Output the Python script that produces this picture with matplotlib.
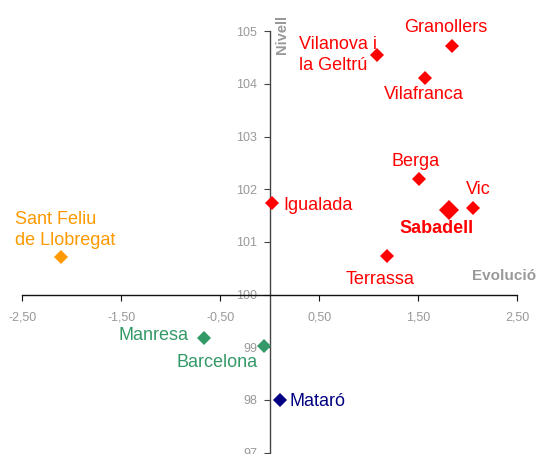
import matplotlib
matplotlib.use('Agg')
import matplotlib.pyplot as plt
from matplotlib.ticker import FuncFormatter

plt.rcParams['font.family'] = ['Liberation Sans', 'DejaVu Sans']

# data
cities = ['Granollers', 'Vilanova i\nla Geltrú', 'Vilafranca', 'Berga', 'Vic',
          'Sabadell', 'Terrassa', 'Igualada', 'Sant Feliu\nde Llobregat',
          'Manresa', 'Barcelona', 'Mataró']
evolucio = [1.84, 1.08, 1.57, 1.51, 2.05, 1.81, 1.18, 0.02, -2.11, -0.67, -0.06, 0.10]
nivell = [104.71, 104.54, 104.11, 102.20, 101.65, 101.60, 100.73, 101.73, 100.71,
          99.17, 99.03, 98.00]
colors = ['#ff0000'] * 8 + ['#ff9900', '#339966', '#339966', '#000080']

xticks = [-2.5, -1.5, -0.5, 0.5, 1.5, 2.5]
yticks = [97, 98, 99, 100, 101, 102, 103, 104, 105]

# label offsets in pixels (dx, dy) and alignment
label_pos = {
    'Granollers': (-6, 19, 'center'),
    'Vilanova i\nla Geltrú': (-78, 0, 'left'),
    'Vilafranca': (-1, -16, 'center'),
    'Berga': (-4, 17, 'center'),
    'Vic': (6, 18, 'center'),
    'Sabadell': (-12, -18, 'center'),
    'Terrassa': (-7, -23, 'center'),
    'Igualada': (12, -2, 'left'),
    'Sant Feliu\nde Llobregat': (-46, 27, 'left'),
    'Manresa': (-15, 3, 'right'),
    'Barcelona': (-6, -17, 'right'),
    'Mataró': (10, -2, 'left'),
}

fig = plt.figure(figsize=(5.39, 4.54), dpi=100)
ax = fig.add_axes([0.0417, 0.0033, 0.918, 0.928])
ax.set_xlim(-2.5, 2.5)
ax.set_ylim(97, 105)

for name, x, y, c in zip(cities, evolucio, nivell, colors):
    big = name == 'Sabadell'
    ax.plot(x, y, marker='D', color=c, markersize=10.5 if big else 7,
            markeredgewidth=0, linestyle='none', clip_on=False, zorder=5)
    dx, dy, ha = label_pos[name]
    ax.annotate(name, (x, y), xytext=(dx, dy), textcoords='offset pixels',
                ha=ha, va='center', color=c, fontsize=13,
                fontweight='bold' if big else 'normal',
                linespacing=1.3, multialignment='left')

for s in ['top', 'right']:
    ax.spines[s].set_visible(False)
ax.spines['left'].set_position(('data', 0))
ax.spines['bottom'].set_position(('data', 100))
ax.spines['left'].set_color('#444444')
ax.spines['bottom'].set_color('#111111')
for s in ['left', 'bottom']:
    ax.spines[s].set_linewidth(1)

ax.set_xticks(xticks)
ax.set_yticks(yticks)
ax.xaxis.set_major_formatter(FuncFormatter(lambda v, p: ('%.2f' % v).replace('.', ',')))
ax.tick_params(axis='x', direction='out', length=4, pad=8, labelsize=9,
               labelcolor='#999999', color='#111111')
ax.tick_params(axis='y', direction='out', length=4, pad=5, labelsize=9,
               labelcolor='#999999', color='#444444')

ax.text(0.12, 104.93, 'Nivell', rotation=90, ha='center', va='center',
        fontsize=10.5, fontweight='bold', color='#999999', clip_on=False)
ax.text(2.37, 100.36, 'Evolució', ha='center', va='center',
        fontsize=11, fontweight='bold', color='#999999', clip_on=False)

fig.savefig('out.png', dpi=100)
